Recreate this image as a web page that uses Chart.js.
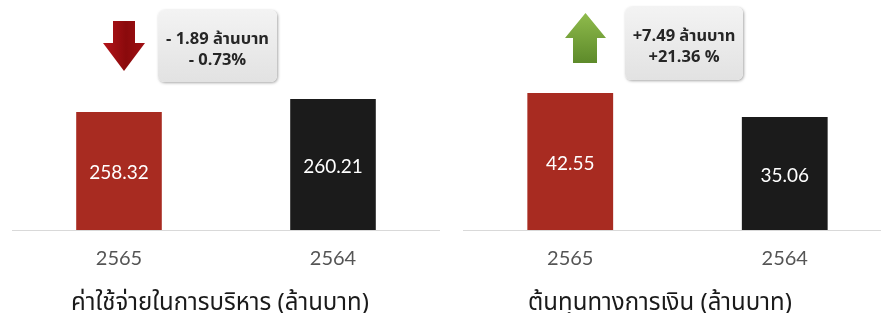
<!DOCTYPE html>
<html>
<head>
<meta charset="utf-8">
<script src="https://cdn.jsdelivr.net/npm/chart.js@4.4.1/dist/chart.umd.min.js"></script>
<style>
  html, body { margin: 0; padding: 0; width: 881px; height: 313px; overflow: hidden; background: #fff; }
  canvas { position: absolute; top: 0; }
  #chartDespesa { left: 0; }
  #chartCusto { left: 440px; }
  .titulo {
    position: absolute; top: 289px; width: 440px; text-align: center;
    font-family: "Noto Sans Thai", "Noto Sans", "DejaVu Sans", sans-serif;
    font-size: 24px; line-height: 28px; color: #1a1a1a; white-space: nowrap;
  }
  .caixa {
    position: absolute; box-sizing: border-box; border-radius: 6px;
    background: linear-gradient(#f3f3f3, #e2e2e2);
    box-shadow: 1px 1px 3px rgba(0,0,0,0.35);
    font-family: "Noto Sans Thai", "Noto Sans", "DejaVu Sans", sans-serif;
    font-weight: bold; font-size: 16.5px; line-height: 21px; color: #262626;
    text-align: center; white-space: nowrap; padding-top: 18px;
  }
  .seta { position: absolute; }
  .seta.baixo {
    left: 103px; top: 21px; width: 42px; height: 50px;
    background: linear-gradient(90deg, #b5141a, #8a0a0c 55%, #a01014);
    clip-path: polygon(10px 0, 32px 0, 32px 22px, 42px 22px, 21px 50px, 0 22px, 10px 22px);
  }
  .seta.cima {
    left: 565px; top: 13px; width: 41px; height: 50px;
    background: linear-gradient(#8fbb4c, #5d8a2a);
    clip-path: polygon(20.5px 0, 41px 25px, 32px 25px, 32px 50px, 8px 50px, 8px 25px, 0 25px);
  }
</style>
</head>
<body>
<canvas id="chartDespesa" width="440" height="313"></canvas>
<canvas id="chartCusto" width="452" height="313"></canvas>

<div class="seta baixo"></div>
<div class="caixa" style="left:158px; top:10px; width:119px; height:72px;">- 1.89 ล้านบาท<br>- 0.73%</div>
<div class="seta cima"></div>
<div class="caixa" style="left:625px; top:7px; width:118px; height:73px;">+7.49 ล้านบาท<br>+21.36 %</div>

<div class="titulo" style="left:0;">ค่าใช้จ่ายในการบริหาร (ล้านบาท)</div>
<div class="titulo" style="left:440px;">ต้นทุนทางการเงิน (ล้านบาท)</div>

<script>
// dados
const anos = ['2565', '2564'];
const despesaAdm = [258.32, 260.21];
const custoFinanceiro = [42.55, 35.06];

const corAtual = '#a82b21';
const corAnterior = '#1b1b1b';

// escreve o valor no meio de cada barra
const valorNaBarra = {
    id: 'valorNaBarra',
    afterDatasetsDraw(chart) {
        const ctx = chart.ctx;
        const meta = chart.getDatasetMeta(0);
        const valores = chart.data.datasets[0].data;
        const fundo = chart.chartArea.bottom;
        ctx.save();
        ctx.fillStyle = '#ffffff';
        ctx.font = '19px Lato, "Open Sans", sans-serif';
        ctx.textAlign = 'center';
        ctx.textBaseline = 'middle';
        meta.data.forEach((barra, i) => {
            const base = Math.min(barra.base, fundo);
            ctx.fillText(valores[i].toFixed(2), barra.x, (barra.y + base) / 2 + 2);
        });
        ctx.restore();
    }
};

function criarGrafico(canvas, valores, minimo, maximo, padEsq) {
    return new Chart(canvas, {
        type: 'bar',
        data: {
            labels: anos,
            datasets: [{
                data: valores,
                backgroundColor: [corAtual, corAnterior],
                barPercentage: 0.4,
                categoryPercentage: 1
            }]
        },
        options: {
            responsive: false,
            animation: false,
            layout: {
                padding: { left: padEsq, right: 0, top: 0, bottom: 33 }
            },
            plugins: {
                legend: { display: false },
                tooltip: { enabled: false }
            },
            scales: {
                x: {
                    grid: { display: false },
                    border: { display: true, color: '#d9d9d9' },
                    ticks: {
                        color: '#555555',
                        padding: 9,
                        font: { size: 20, family: 'Lato, "Open Sans", sans-serif' }
                    }
                },
                y: {
                    display: false,
                    min: minimo,
                    max: maximo
                }
            }
        },
        plugins: [valorNaBarra]
    });
}

criarGrafico(document.getElementById('chartDespesa'), despesaAdm, 241.2, 274.6, 12);
criarGrafico(document.getElementById('chartCusto'), custoFinanceiro, 0, 71.4, 23);
</script>
</body>
</html>
